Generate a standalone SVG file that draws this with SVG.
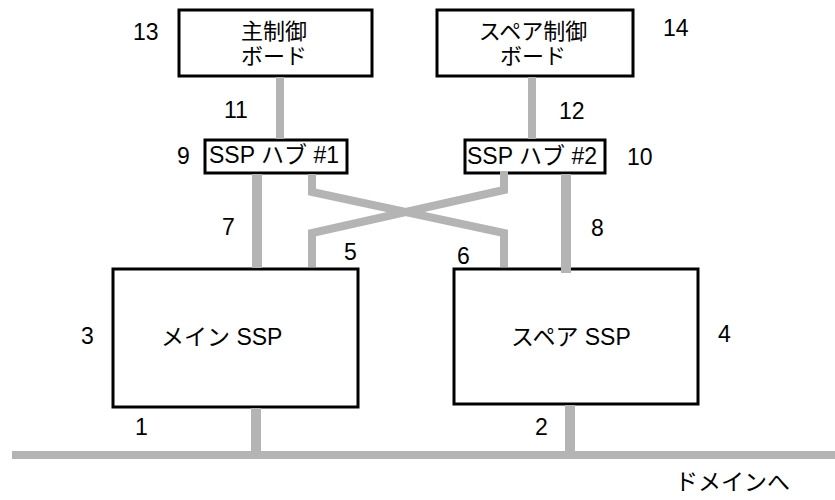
<svg xmlns="http://www.w3.org/2000/svg" width="835" height="500" viewBox="0 0 835 500">
<style>
.box{fill:#fff;stroke:#000;stroke-width:3}
.c{fill:none;stroke:#b4b4b4;stroke-linejoin:miter}
.t{font-family:"Liberation Sans","Noto Sans CJK JP",sans-serif;font-size:23px;fill:#000}
.b{font-size:22px}
.m{text-anchor:middle}
</style>
<rect width="835" height="500" fill="#fff"/>
<g id="main-board"><rect class="box" x="179" y="10" width="193" height="66"/><text class="t b m" x="274" y="39">主制御</text><text class="t b m" x="274" y="64">ボード</text></g>
<g id="spare-board"><rect class="box" x="437" y="10" width="196" height="66"/><text class="t b m" x="533" y="39">スペア制御</text><text class="t b m" x="533" y="64">ボード</text></g>
<g id="hub1"><rect class="box" x="205" y="140" width="142" height="33"/><text class="t" x="209" y="163">SSP ハブ #1</text></g>
<g id="hub2"><rect class="box" x="465" y="140" width="140" height="33"/><text class="t" x="467" y="164">SSP ハブ #2</text></g>
<g id="main-ssp"><rect class="box" x="113" y="269" width="245" height="138"/><text class="t" x="161" y="345">メイン SSP</text></g>
<g id="spare-ssp"><rect class="box" x="454" y="269" width="244" height="135"/><text class="t" x="511" y="345">スペア SSP</text></g>
<g id="connectors">
<line class="c" x1="280" y1="77" x2="280" y2="139" stroke-width="8"/>
<line class="c" x1="532" y1="77" x2="532" y2="139" stroke-width="8"/>
<line class="c" x1="257" y1="174" x2="257" y2="268" stroke-width="10"/>
<line class="c" x1="566" y1="174" x2="566" y2="273" stroke-width="10"/>
<polyline class="c" points="312,174 312,192 504,233 504,267" stroke-width="8"/>
<polyline class="c" points="504,171 504,190 312,233 312,267" stroke-width="8"/>
<line class="c" x1="256" y1="408" x2="256" y2="452" stroke-width="10"/>
<line class="c" x1="570" y1="405" x2="570" y2="452" stroke-width="10"/>
<line class="c" x1="12" y1="455" x2="835" y2="455" stroke-width="8"/>
</g>
<g id="labels">
<text class="t" x="133" y="40">13</text>
<text class="t" x="663" y="36">14</text>
<text class="t" x="224" y="118">11</text>
<text class="t" x="559" y="119">12</text>
<text class="t" x="177" y="164">9</text>
<text class="t" x="627" y="165">10</text>
<text class="t" x="222" y="235">7</text>
<text class="t" x="591" y="236">8</text>
<text class="t" x="344" y="260">5</text>
<text class="t" x="457" y="264">6</text>
<text class="t" x="81" y="344">3</text>
<text class="t" x="718" y="342">4</text>
<text class="t" x="135" y="435">1</text>
<text class="t" x="535" y="435">2</text>
<text class="t" x="675" y="490">ドメインへ</text>
</g>
</svg>
